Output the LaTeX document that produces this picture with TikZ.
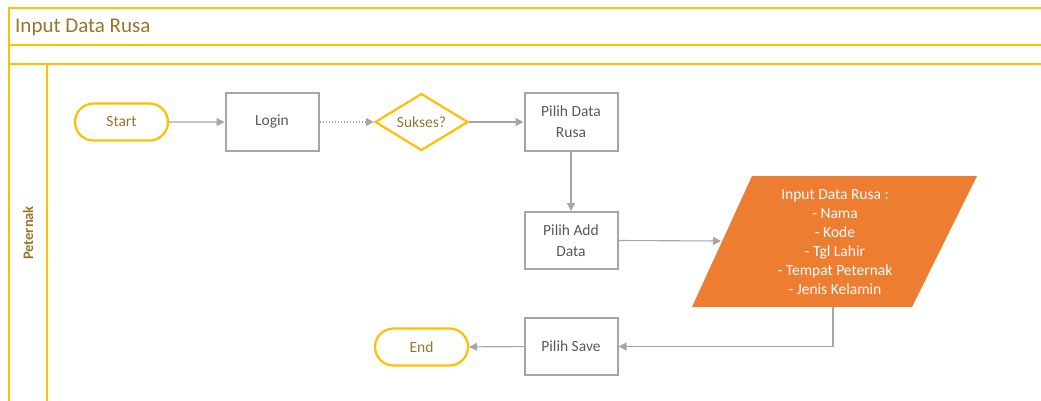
\documentclass[tikz,border=0pt]{standalone}
\usepackage{fontspec}
\setmainfont{Carlito}
\usetikzlibrary{arrows.meta,shapes.geometric,shapes.misc}
\definecolor{lane}{HTML}{FFC000}
\definecolor{gold}{HTML}{967729}
\definecolor{boxline}{HTML}{A6A6A6}
\definecolor{boxtext}{HTML}{595959}
\definecolor{conn}{HTML}{A6A6A6}
\definecolor{inorange}{HTML}{ED7D31}
\tikzset{
  laneline/.style={draw=lane, line width=2.4pt},
  pill/.style={rounded rectangle, draw=lane, line width=2.2pt, fill=white, minimum width=93pt, minimum height=37pt, text=gold, font=\fontsize{15.5}{17}\selectfont, inner sep=0pt},
  stepbox/.style={rectangle, draw=boxline, line width=2pt, fill=white, minimum width=93pt, minimum height=57pt, text=boxtext, font=\fontsize{15.5}{21}\selectfont, align=center, inner sep=0pt},
  decision/.style={diamond, draw=lane, line width=2.2pt, fill=white, minimum width=93pt, minimum height=57pt, aspect=1.63, text=gold, font=\fontsize{15.5}{17}\selectfont, inner sep=0pt},
  conn/.style={draw=conn, line width=1.1pt, -{Triangle[length=8pt,width=8pt]}},
  dotconn/.style={conn, dash pattern=on 1.5pt off 1.5pt}
}
\begin{document}
\begin{tikzpicture}[x=1pt,y=-1pt]
\useasboundingbox (0,0) rectangle (1041,401);
% swimlane frame
\draw[laneline] (9,401) -- (9,8) -- (1041,8);
\draw[laneline] (9,45) -- (1041,45);
\draw[laneline] (9,64) -- (1041,64);
\draw[laneline] (47,64) -- (47,401);
\node[anchor=west, text=gold, font=\fontsize{21}{23}\selectfont, inner sep=0pt] (title) at (15,27) {Input Data Rusa};
\node[rotate=90, text=gold, font=\fontsize{14.5}{16}\selectfont\bfseries, inner sep=0pt] (lane) at (28,233) {Peternak};
% nodes
\node[pill] (start) at (121.5,122) {Start};
\node[stepbox] (login) at (272,122) {Login};
\node[decision] (sukses) at (421.5,122) {Sukses?};
\node[stepbox] (pilihdata) at (571,122) {Pilih Data\\Rusa};
\node[stepbox] (adddata) at (571,240.5) {Pilih Add\\Data};
\node[stepbox] (save) at (571,346.5) {Pilih Save};
\node[pill] (end) at (421.5,347) {End};
% input parallelogram
\fill[inorange] (752,176) -- (977,176) -- (912,307) -- (692,307) -- cycle;
\node[text=white, font=\fontsize{15.5}{19}\selectfont, align=center, inner sep=0pt] (inp) at (835,242) {Input Data Rusa :\\- Nama\\- Kode\\- Tgl Lahir\\- Tempat Peternak\\- Jenis Kelamin};
\coordinate (inpL) at (721,241);
\coordinate (inpB) at (833,307);
% connectors
\draw[conn] (start) -- (login);
\draw[dotconn] (login) -- (sukses);
\draw[conn] (sukses) -- (pilihdata);
\draw[conn] (pilihdata) -- (adddata);
\draw[conn] (adddata.east) -- (inpL);
\draw[conn] (inpB) |- (save.east);
\draw[conn] (save) -- (end);
\end{tikzpicture}
\end{document}
